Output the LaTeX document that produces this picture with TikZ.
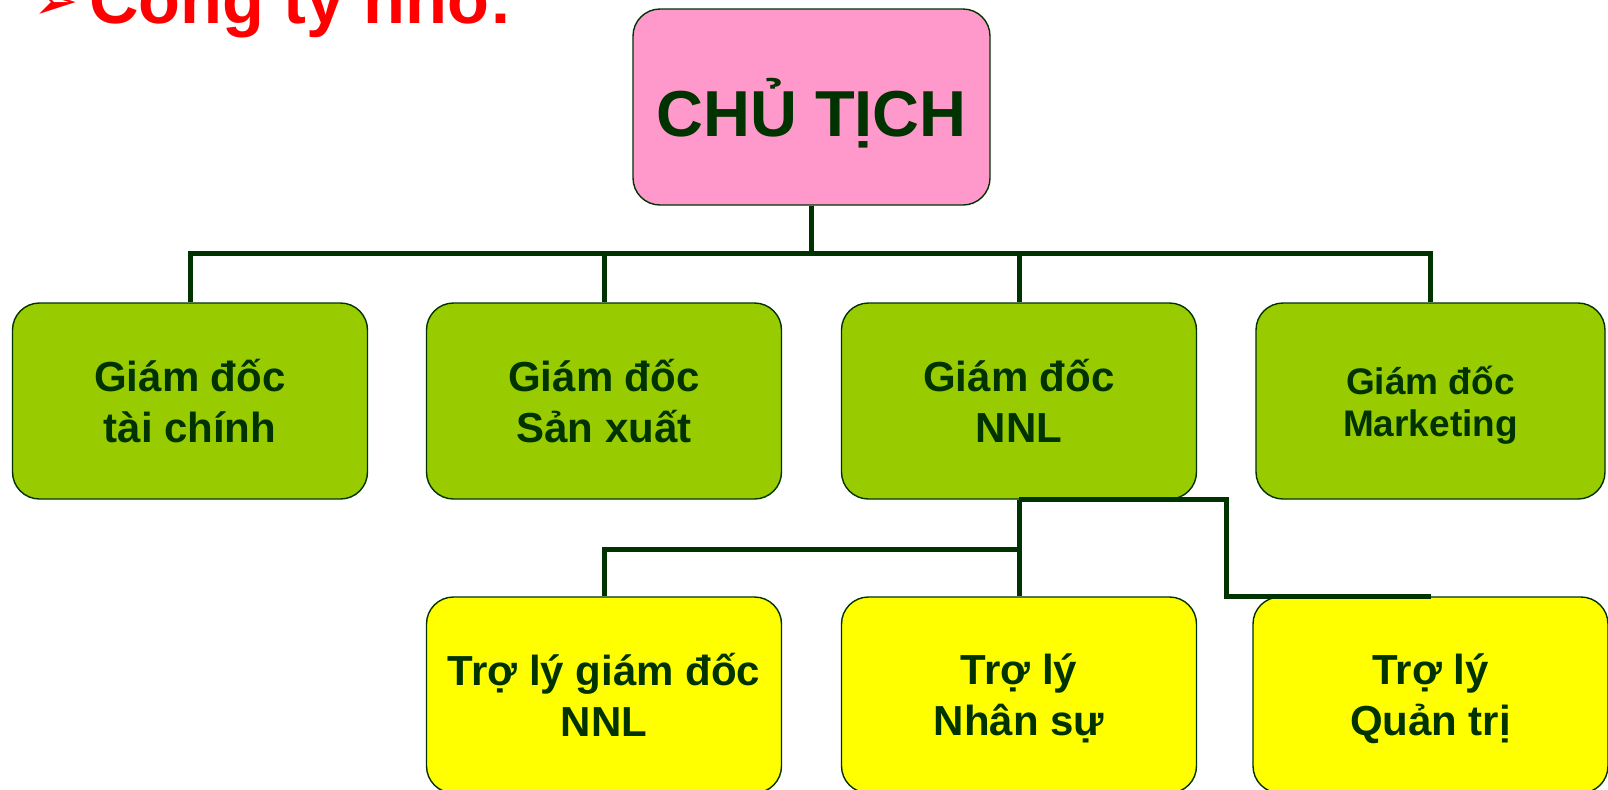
\documentclass[tikz,border=0pt]{standalone}
\usepackage{fontspec}
\setmainfont{Liberation Sans}
\newfontfamily\symfont{DejaVu Sans}
\definecolor{dkgreen}{HTML}{003300}
\definecolor{pinkbox}{HTML}{FF99CC}
\definecolor{greenbox}{HTML}{99CC00}
\definecolor{yellowbox}{HTML}{FFFF00}
\begin{document}
\begin{tikzpicture}[x=0.5pt,y=-0.5pt,
	box/.style={draw=dkgreen,line width=0.7pt,rounded corners=13.5pt,minimum width=177.5pt,minimum height=98pt,align=center,text=dkgreen,inner sep=0pt,text depth=0pt,font=\bfseries\fontsize{21}{25.5}\selectfont},
	link/.style={draw=dkgreen,line width=2.5pt}]
	\useasboundingbox (0,0) rectangle (1608,789);
	\node[text=red,font=\symfont\fontsize{27}{27}\selectfont,anchor=base west,inner sep=0pt] (bullet) at (33,19) {➢};
	\node[text=red,font=\bfseries\fontsize{34.3}{36}\selectfont,anchor=base west,inner sep=0pt] (title) at (89,23) {Công ty nhỏ:};
	\node[box,fill=pinkbox,minimum width=178.5pt,font=\bfseries\fontsize{32.5}{36}\selectfont] (chair) at (811.5,107) {CHỦ TỊCH};
	\node[box,fill=greenbox] (gd1) at (190,401) {Giám đốc\\tài chính};
	\node[box,fill=greenbox] (gd2) at (604,401) {Giám đốc\\Sản xuất};
	\node[box,fill=greenbox] (gd3) at (1019,401) {Giám đốc\\NNL};
	\node[box,fill=greenbox,minimum width=174.5pt,font=\bfseries\fontsize{18.5}{21}\selectfont] (gd4) at (1430.5,401) {Giám đốc\\Marketing};
	\node[box,fill=yellowbox] (tl1) at (604,695) {Trợ lý giám đốc\\NNL};
	\node[box,fill=yellowbox] (tl2) at (1019,695) {Trợ lý\\Nhân sự};
	\node[box,fill=yellowbox] (tl3) at (1430.5,695) {Trợ lý\\Quản trị};
	\foreach \n in {gd1,gd2,gd3,gd4}
	\draw[link] (chair.south) -- ++(0,48) -| (\n.north);
	\draw[link] (gd3.south) -- ++(0,50) -| (tl1.north);
	\draw[link] (gd3.south) -- (tl2.north);
	\draw[link] (gd3.south) -- ++(207,0) |- (tl3.north);
\end{tikzpicture}
\end{document}
